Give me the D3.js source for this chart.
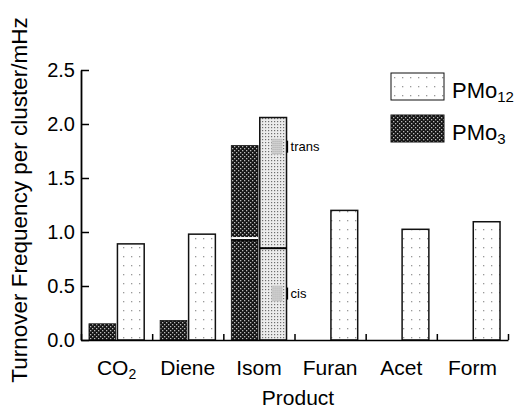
<!DOCTYPE html>
<html>
<head>
<meta charset="utf-8">
<script src="https://cdn.jsdelivr.net/npm/d3@7"></script>
<style>
  body { margin: 0; background: #fff; }
  svg { display: block; font-family: "Liberation Sans", Arial, sans-serif; }
</style>
</head>
<body>
<svg width="516" height="410"></svg>
<script>
// data
const categories = ["CO2", "Diene", "Isom", "Furan", "Acet", "Form"];
const series = ["PMo3", "PMo12"];
const pmo3 = [0.15, 0.18, 1.80, 0, 0, 0];
const pmo12 = [0.89, 0.98, 2.06, 1.20, 1.025, 1.095];
// Isom bars are split into cis (bottom) and trans (top) parts
const isomCis = { PMo3: 0.93, PMo12: 0.85 };
const isomLabels = [
  { text: "trans", value: 1.79 },
  { text: "cis", value: 0.43 }
];
const yTicks = [0, 0.5, 1.0, 1.5, 2.0, 2.5];

const svg = d3.select("svg");

const x = d3.scaleBand().domain(categories).range([81, 508]);
const xs = d3.scaleBand().domain(series).range([0, x.bandwidth()])
  .paddingInner(0.06).paddingOuter(0.28);
const y = d3.scaleLinear().domain([0, 2.5]).range([340, 70]);

// patterns
const defs = svg.append("defs");
const dark = defs.append("pattern").attr("id", "dark")
  .attr("patternUnits", "userSpaceOnUse").attr("width", 4).attr("height", 4);
dark.append("rect").attr("width", 4).attr("height", 4).attr("fill", "#151515");
dark.append("rect").attr("x", 0).attr("y", 0).attr("width", 1.3).attr("height", 1.3).attr("fill", "#bbb");
dark.append("rect").attr("x", 2).attr("y", 2).attr("width", 1.3).attr("height", 1.3).attr("fill", "#bbb");

const light = defs.append("pattern").attr("id", "light")
  .attr("patternUnits", "userSpaceOnUse").attr("width", 8).attr("height", 9);
light.append("rect").attr("width", 8).attr("height", 9).attr("fill", "#fff");
light.append("rect").attr("x", 3).attr("y", 4).attr("width", 1.3).attr("height", 1.3).attr("fill", "#999");

const stipple = defs.append("pattern").attr("id", "stipple")
  .attr("patternUnits", "userSpaceOnUse").attr("width", 3).attr("height", 3);
stipple.append("rect").attr("width", 3).attr("height", 3).attr("fill", "#ececec");
stipple.append("rect").attr("x", 1).attr("y", 1).attr("width", 1.2).attr("height", 1.2).attr("fill", "#6f6f6f");

const swatch = defs.append("pattern").attr("id", "swatch")
  .attr("patternUnits", "userSpaceOnUse").attr("width", 2).attr("height", 2);
swatch.append("rect").attr("width", 2).attr("height", 2).attr("fill", "#ddd");
swatch.append("rect").attr("width", 1).attr("height", 1).attr("fill", "#888");

// bars
const rows = categories.map((c, i) => ({ cat: c, PMo3: pmo3[i], PMo12: pmo12[i] }));
const g = svg.append("g");

rows.forEach(r => {
  series.forEach(s => {
    const v = r[s];
    if (!v) return;
    const bx = x(r.cat) + xs(s);
    const fill = s === "PMo3" ? "url(#dark)" : (r.cat === "Isom" ? "url(#stipple)" : "url(#light)");
    g.append("rect")
      .attr("x", bx).attr("y", y(v))
      .attr("width", xs.bandwidth()).attr("height", y(0) - y(v))
      .attr("fill", fill)
      .attr("stroke", "#111")
      .attr("stroke-width", s === "PMo3" ? 0.8 : 1.5);
  });
});

// cis/trans dividers in the Isom bars
const isomX = x("Isom");
g.append("line")
  .attr("x1", isomX + xs("PMo3")).attr("x2", isomX + xs("PMo3") + xs.bandwidth())
  .attr("y1", y(isomCis.PMo3) - 1.5).attr("y2", y(isomCis.PMo3) - 1.5)
  .attr("stroke", "#fff").attr("stroke-width", 2);
g.append("line")
  .attr("x1", isomX + xs("PMo3")).attr("x2", isomX + xs("PMo3") + xs.bandwidth())
  .attr("y1", y(isomCis.PMo3) + 0.5).attr("y2", y(isomCis.PMo3) + 0.5)
  .attr("stroke", "#000").attr("stroke-width", 1.5);
g.append("line")
  .attr("x1", isomX + xs("PMo12")).attr("x2", isomX + xs("PMo12") + xs.bandwidth())
  .attr("y1", y(isomCis.PMo12)).attr("y2", y(isomCis.PMo12))
  .attr("stroke", "#000").attr("stroke-width", 2);

// trans / cis labels
const lab = g.selectAll(".isom-label").data(isomLabels).join("g")
  .attr("transform", d => `translate(${isomX + xs("PMo12") + xs.bandwidth()},${y(d.value)})`);
lab.append("rect").attr("x", -15).attr("y", -8).attr("width", 11).attr("height", 16)
  .attr("fill", "url(#swatch)");
lab.append("line").attr("x1", 1).attr("x2", 1).attr("y1", -6).attr("y2", 6)
  .attr("stroke", "#000").attr("stroke-width", 1.2);
lab.append("text").attr("x", 4).attr("dy", "0.35em")
  .attr("font-size", 13).text(d => d.text);

// y axis
const yAxis = svg.append("g")
  .attr("transform", "translate(81,0)")
  .call(d3.axisLeft(y).tickValues(yTicks).tickFormat(d3.format(".1f"))
    .tickSizeInner(-8).tickSizeOuter(0).tickPadding(6));
yAxis.select(".domain").attr("stroke-width", 1.8);
yAxis.selectAll(".tick line").attr("stroke-width", 1.5);
yAxis.selectAll("text").attr("font-size", 20).attr("fill", "#000")
  .attr("font-family", "Liberation Sans, Arial, sans-serif");

// x axis: baseline with upward ticks at group boundaries
const xb = d3.scaleLinear().domain([0, categories.length]).range(x.range());
const xAxis = svg.append("g")
  .attr("transform", `translate(0,${y(0)})`)
  .call(d3.axisBottom(xb).ticks(categories.length).tickFormat("")
    .tickSizeInner(-6).tickSizeOuter(0));
xAxis.select(".domain").attr("stroke-width", 1.5);
xAxis.selectAll(".tick line").attr("stroke-width", 1.5);

// category labels
const xLab = svg.append("g")
  .attr("transform", `translate(0,${y(0)})`)
  .call(d3.axisBottom(x).tickSize(0).tickPadding(20));
xLab.select(".domain").remove();
xLab.selectAll("text").attr("font-size", 21).attr("fill", "#000")
  .attr("font-family", "Liberation Sans, Arial, sans-serif")
  .each(function(d) {
    if (d === "CO2") {
      const t = d3.select(this).text("CO");
      t.append("tspan").attr("font-size", 14).attr("dy", "0.3em").text("2");
    }
  });

// axis titles
svg.append("text")
  .attr("x", 298).attr("y", 405)
  .attr("text-anchor", "middle").attr("font-size", 21)
  .text("Product");
svg.append("text")
  .attr("transform", "translate(27,200) rotate(-90)")
  .attr("text-anchor", "middle").attr("font-size", 22.5)
  .text("Turnover Frequency per cluster/mHz");

// legend
const legendItems = [
  { key: "PMo12", main: "PMo", sub: "12", fill: "url(#light)" },
  { key: "PMo3", main: "PMo", sub: "3", fill: "url(#dark)" }
];
const leg = svg.append("g").selectAll("g").data(legendItems).join("g")
  .attr("transform", (d, i) => `translate(391,${73 + i * 42})`);
leg.append("rect").attr("width", 53).attr("height", 27)
  .attr("fill", d => d.fill).attr("stroke", "#111").attr("stroke-width", 1);
const lt = leg.append("text").attr("x", 61).attr("y", 25).attr("font-size", 22);
lt.append("tspan").text(d => d.main);
lt.append("tspan").attr("font-size", 15).attr("dy", "0.25em").text(d => d.sub);
</script>
</body>
</html>
